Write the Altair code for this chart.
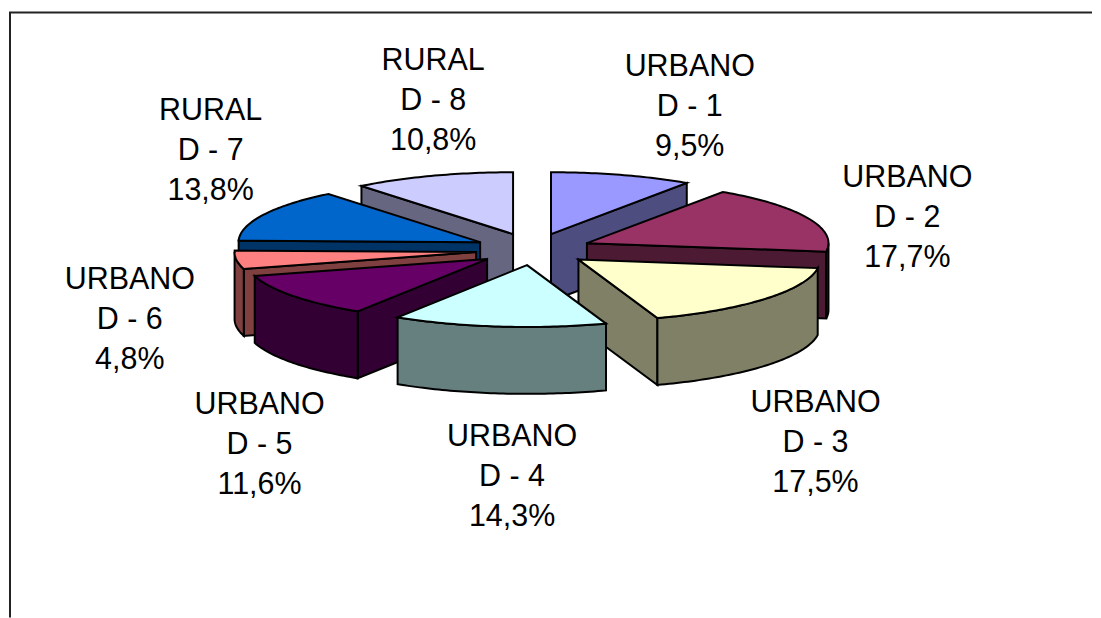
import math
import altair as alt

categories = ["URBANO D - 1", "URBANO D - 2", "URBANO D - 3", "URBANO D - 4",
              "URBANO D - 5", "URBANO D - 6", "RURAL D - 7", "RURAL D - 8"]
values = [9.5, 17.7, 17.5, 14.3, 11.6, 4.8, 13.8, 10.8]
top_colors = ["#9999FF", "#993366", "#FFFFCC", "#CCFFFF", "#660066", "#FF8080", "#0066CC", "#CCCCFF"]
wall_colors = ["#4D4D80", "#4D1A33", "#808066", "#668080", "#330033", "#804040", "#003366", "#666680"]

# layout (page pixels)
OX, OY = 8, 8
W, H = 1085, 610
RX, RY, DEPTH = 242, 62, 67
apex = [(551, 234), (587, 243), (578.5, 259.5), (527, 265), (487, 259), (476, 252), (480, 242), (513, 234)]
draw_order = [0, 7, 1, 6, 5, 2, 4, 3]
label_xy = [(690, 66.5), (908, 178), (816, 403), (512, 437), (259, 405), (129, 280), (210, 111), (433, 61)]
LINE = 40


def rim(i, deg, dy=0.0):
    t = math.radians(deg)
    return [apex[i][0] + RX * math.sin(t) - OX, apex[i][1] - RY * math.cos(t) + dy - OY]


def arc(i, a, b, dy=0.0):
    n = max(2, int(abs(b - a)) + 2)
    return [rim(i, a + (b - a) * k / (n - 1), dy) for k in range(n)]


def poly(pts, fill):
    return {"type": "Feature", "properties": {"fill": fill},
            "geometry": {"type": "Polygon", "coordinates": [pts + [pts[0]]]}}


bounds = []
acc = 0.0
for v in values:
    bounds.append((acc * 3.6, (acc + v) * 3.6))
    acc += v

features = []
for i in draw_order:
    a, b = bounds[i]
    cx, cy = apex[i][0] - OX, apex[i][1] - OY
    wall = wall_colors[i]
    # radial faces turned to the viewer
    for edge, normal in ((a, a - 90), (b, b + 90)):
        if math.cos(math.radians(normal)) < 0:
            r0, r1 = rim(i, edge), rim(i, edge, DEPTH)
            features.append(poly([[cx, cy], r0, r1, [cx, cy + DEPTH]], wall))
    # outer curved face
    lo, hi = max(a, 90), min(b, 270)
    if lo < hi:
        features.append(poly(arc(i, lo, hi) + arc(i, hi, lo, DEPTH), wall))
    features.append(poly([[cx, cy]] + arc(i, a, b), top_colors[i]))

rows = []
for cat, v, (lx, ly) in zip(categories, values, label_xy):
    head, tail = cat.split(" ", 1)
    pct = f"{v:.1f}%".replace(".", ",")
    for k, line in enumerate([head, tail, pct]):
        rows.append({"x": lx - OX, "y": ly - OY + k * LINE, "t": line})

frame = [{"x": 1, "y": 4, "x2": 1, "y2": H}, {"x": 0, "y": 4, "x2": W, "y2": 4}]

xs = alt.Scale(domain=[0, W], range=[0, W])
ys = alt.Scale(domain=[0, H], range=[0, H])

shapes = alt.Chart(alt.Data(values=features)).mark_geoshape(
    stroke="black", strokeWidth=2, strokeJoin="miter"
).encode(fill=alt.Color("properties.fill:N", scale=None)).project(
    type="identity", scale=1, translate=[0, 0]
)
labels = alt.Chart(alt.Data(values=rows)).mark_text(
    font="Liberation Sans", fontSize=30.5, color="black", align="center", baseline="middle"
).encode(
    x=alt.X("x:Q", scale=xs, axis=None),
    y=alt.Y("y:Q", scale=ys, axis=None),
    text="t:N",
)
border = alt.Chart(alt.Data(values=frame)).mark_rule(color="#222222", strokeWidth=2).encode(
    x=alt.X("x:Q", scale=xs, axis=None), x2="x2:Q",
    y=alt.Y("y:Q", scale=ys, axis=None), y2="y2:Q",
)

chart = alt.layer(border, shapes, labels).properties(
    width=W, height=H, padding=0, background="white"
).configure_view(stroke=None)

chart.save("out.html", embed_options={"renderer": "svg", "actions": False})
